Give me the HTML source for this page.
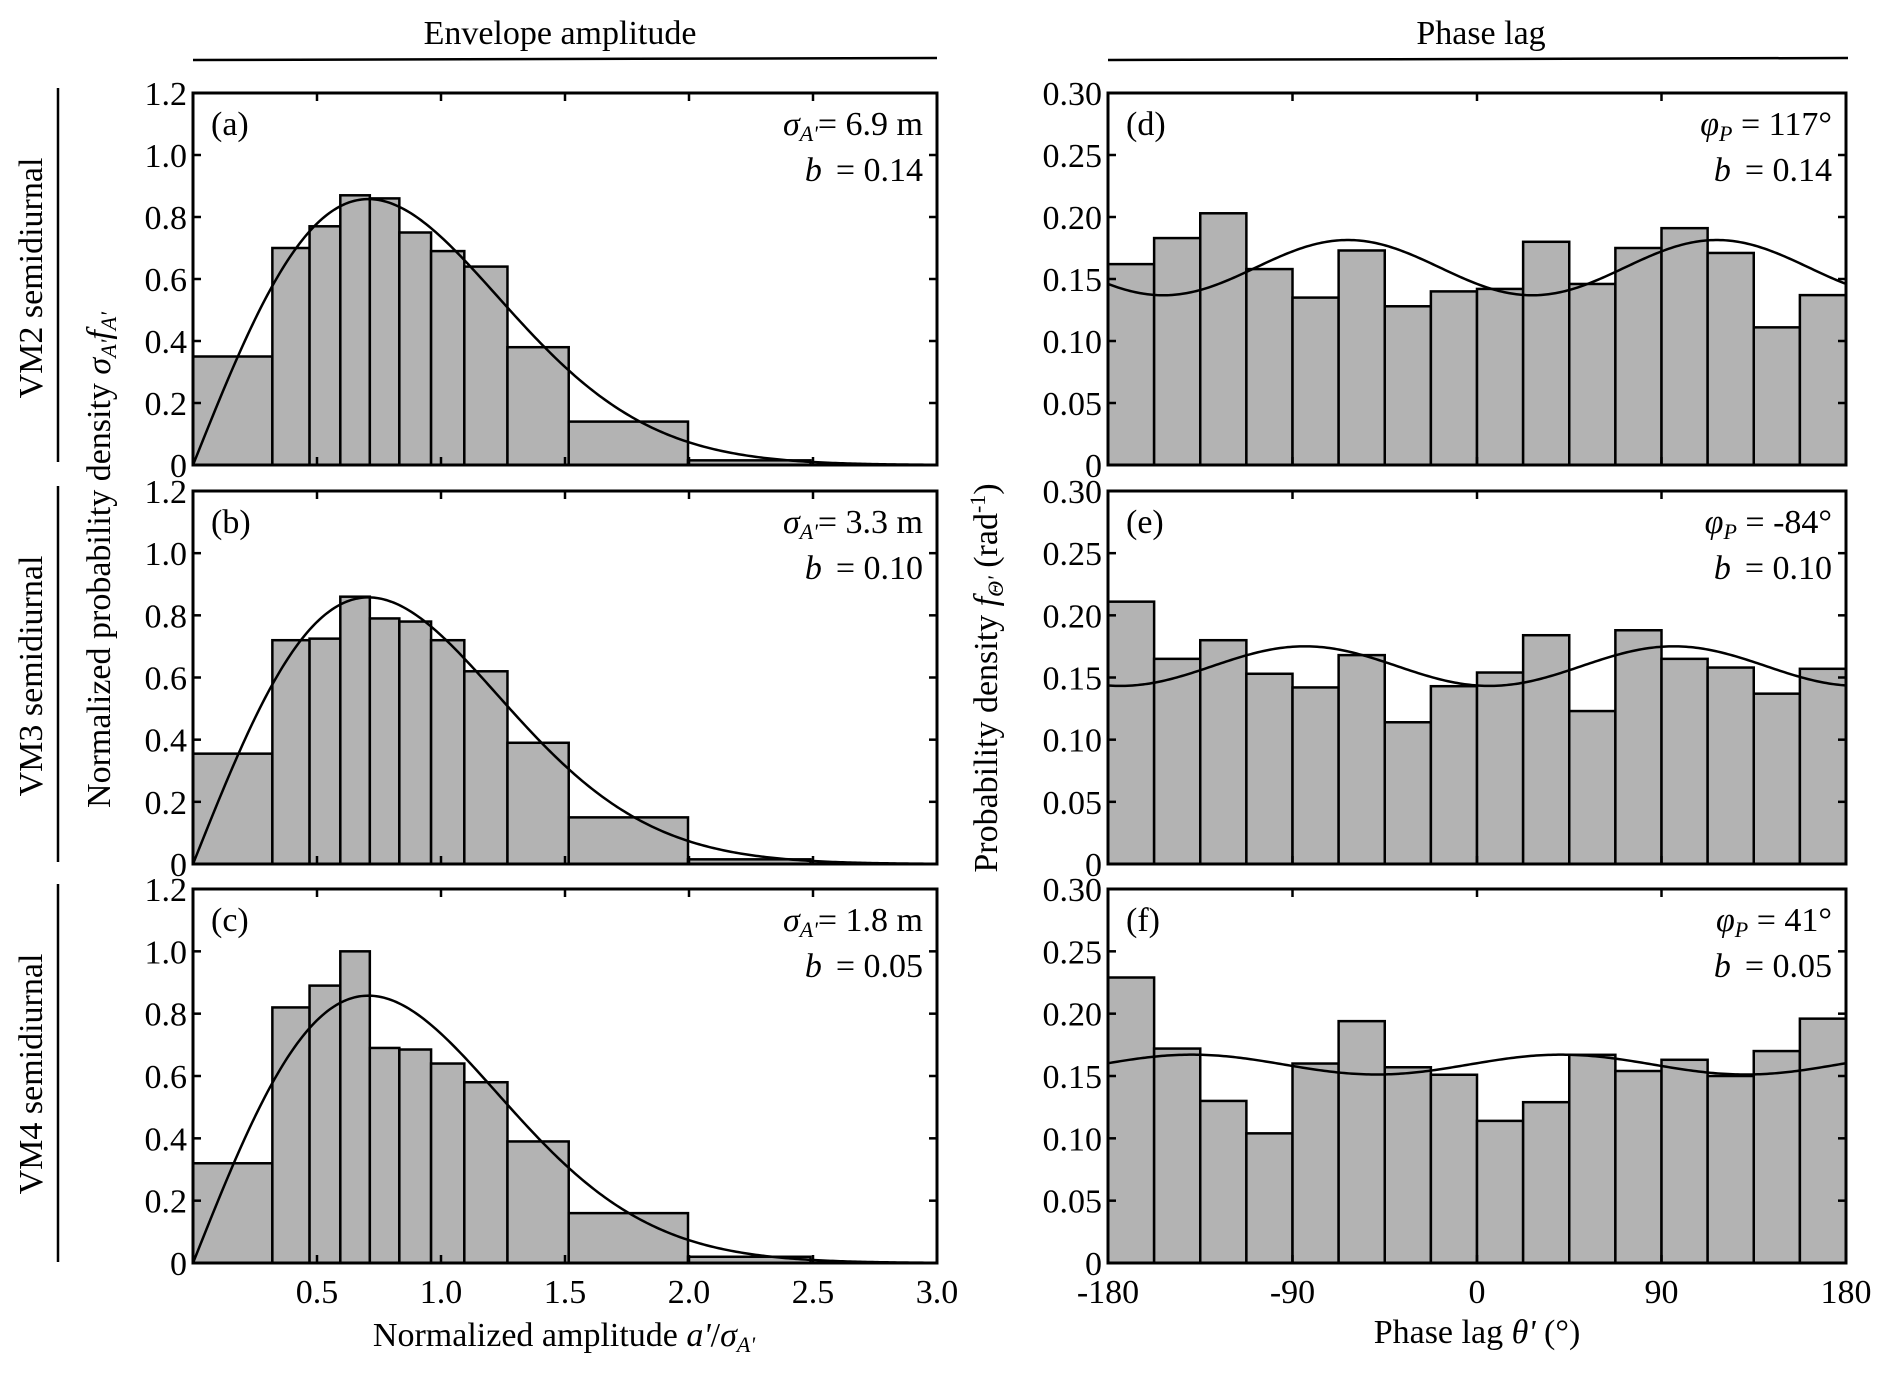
<!DOCTYPE html>
<html><head><meta charset="utf-8">
<style>
html,body{margin:0;padding:0;background:#fff;}
svg, svg text{font-family:"Liberation Serif","Times New Roman",serif;}
</style></head>
<body>
<svg id="fig" width="1892" height="1373" viewBox="0 0 1892 1373" xmlns="http://www.w3.org/2000/svg" font-family="Liberation Serif, serif">
  <text x="560" y="44" font-size="34" text-anchor="middle">Envelope amplitude</text>
  <line x1="193" y1="60" x2="937" y2="58" stroke="#000" stroke-width="2.5"/>
  <text x="1481" y="44" font-size="34" text-anchor="middle">Phase lag</text>
  <line x1="1108" y1="60" x2="1848" y2="58" stroke="#000" stroke-width="2.5"/>

  <line x1="58" y1="88" x2="58" y2="462" stroke="#000" stroke-width="2.5"/>
  <line x1="58" y1="486" x2="58" y2="862" stroke="#000" stroke-width="2.5"/>
  <line x1="58" y1="884" x2="58" y2="1262" stroke="#000" stroke-width="2.5"/>
  <text transform="translate(42,278) rotate(-90)" font-size="34" text-anchor="middle">VM2 semidiurnal</text>
  <text transform="translate(42,676) rotate(-90)" font-size="34" text-anchor="middle">VM3 semidiurnal</text>
  <text transform="translate(42,1074) rotate(-90)" font-size="34" text-anchor="middle">VM4 semidiurnal</text>

  <text transform="translate(110,560) rotate(-90)" font-size="34" text-anchor="middle">Normalized probability density <tspan font-style="italic">σ</tspan><tspan font-style="italic" font-size="22" dy="6">A'</tspan><tspan font-style="italic" dy="-6">f</tspan><tspan font-style="italic" font-size="22" dy="6">A'</tspan></text>
  <text transform="translate(997,678) rotate(-90)" font-size="34" text-anchor="middle">Probability density <tspan font-style="italic">f</tspan><tspan font-style="italic" font-size="22" dy="6">Θ'</tspan><tspan dy="-6"> (rad</tspan><tspan font-size="22" dy="-12">-1</tspan><tspan dy="12">)</tspan></text>
  <text x="564" y="1346" font-size="34" text-anchor="middle">Normalized amplitude <tspan font-style="italic">a'</tspan>/<tspan font-style="italic">σ</tspan><tspan font-style="italic" font-size="22" dy="6">A'</tspan></text>
  <text x="1477" y="1343" font-size="34" text-anchor="middle">Phase lag <tspan font-style="italic">θ'</tspan> (°)</text>
  <g id="plots"></g>
</svg>
<script>
// ---- Amplitude histograms (a,b,c) ----
const ampEdges = [0, 0.32, 0.47, 0.594, 0.713, 0.832, 0.96, 1.094, 1.268, 1.515, 1.996, 2.49];
const ampA = [0.35, 0.70, 0.77, 0.87, 0.86, 0.75, 0.69, 0.64, 0.38, 0.14, 0.015];
const ampB = [0.355, 0.72, 0.725, 0.86, 0.79, 0.78, 0.72, 0.62, 0.39, 0.15, 0.015];
const ampC = [0.32, 0.82, 0.89, 1.0, 0.69, 0.685, 0.64, 0.58, 0.39, 0.16, 0.02];
const ampXTicks = [0.5, 1.0, 1.5, 2.0, 2.5, 3.0];
const ampYTicks = [0, 0.2, 0.4, 0.6, 0.8, 1.0, 1.2];
const ampYLabels = ["0", "0.2", "0.4", "0.6", "0.8", "1.0", "1.2"];
const ampFitScale = 1.0; // Rayleigh fit, normalized
// ---- Phase histograms (d,e,f) ----
const phaseEdges = [-180, -157.5, -135, -112.5, -90, -67.5, -45, -22.5, 0, 22.5, 45, 67.5, 90, 112.5, 135, 157.5, 180];
const phaseD = [0.162, 0.183, 0.203, 0.158, 0.135, 0.173, 0.128, 0.140, 0.142, 0.180, 0.146, 0.175, 0.191, 0.171, 0.111, 0.137];
const phaseE = [0.211, 0.165, 0.180, 0.153, 0.142, 0.168, 0.114, 0.143, 0.154, 0.184, 0.123, 0.188, 0.165, 0.158, 0.137, 0.157];
const phaseF = [0.229, 0.172, 0.130, 0.104, 0.160, 0.194, 0.157, 0.151, 0.114, 0.129, 0.167, 0.154, 0.163, 0.150, 0.170, 0.196];
const phaseXTicks = [-180, -90, 0, 90, 180];
const phaseYTicks = [0, 0.05, 0.10, 0.15, 0.20, 0.25, 0.30];
const phaseYLabels = ["0", "0.05", "0.10", "0.15", "0.20", "0.25", "0.30"];
const phiP = [117, -84, 41];
const bVals = [0.14, 0.10, 0.05];
const sigmaVals = ["6.9", "3.3", "1.8"];

const NS = "http://www.w3.org/2000/svg";
const root = document.getElementById("plots");
function mk(tag, attrs, parent) {
  const e = document.createElementNS(NS, tag);
  for (const k in attrs) e.setAttribute(k, attrs[k]);
  (parent || root).appendChild(e);
  return e;
}
const rows = [[93, 465], [491, 864], [889, 1263]];
const letters = [["(a)", "(b)", "(c)"], ["(d)", "(e)", "(f)"]];

function panel(kind, r) {
  const [top, bot] = rows[r];
  const left = kind === 0 ? 193 : 1108, right = kind === 0 ? 937 : 1846;
  const xmin = kind === 0 ? 0 : -180, xmax = kind === 0 ? 3 : 180;
  const ymax = kind === 0 ? 1.2 : 0.30;
  const xs = v => left + (v - xmin) / (xmax - xmin) * (right - left);
  const ys = v => bot - v / ymax * (bot - top);
  const g = mk("g", {});
  
  
  const edges = kind === 0 ? ampEdges : phaseEdges;
  const vals = kind === 0 ? [ampA, ampB, ampC][r] : [phaseD, phaseE, phaseF][r];
  vals.forEach((v, i) => {
    const x0 = xs(edges[i]), x1 = xs(edges[i + 1]);
    const rect = mk("rect", {x: x0, y: ys(v), width: x1 - x0, height: ys(0) - ys(v), fill: "#b3b3b3", stroke: "#000", "stroke-width": 2.5}, g);
    
    
  });
  let d = "";
  const N = 300;
  for (let k = 0; k <= N; k++) {
    const x = xmin + (xmax - xmin) * k / N;
    let y;
    if (kind === 0) { const u = x / ampFitScale; y = 2 * u * Math.exp(-u * u) / ampFitScale; }
    else { y = (1 / (2 * Math.PI)) * (1 + bVals[r] * Math.cos(2 * (x - phiP[r]) * Math.PI / 180)); }
    d += (k ? "L" : "M") + xs(x).toFixed(2) + "," + ys(y).toFixed(2);
  }
  const path = mk("path", {d: d, fill: "none", stroke: "#000", "stroke-width": 2.5}, g);
  
  
  const fr = mk("rect", {x: left, y: top, width: right - left, height: bot - top, fill: "none", stroke: "#000", "stroke-width": 3}, g);
  
  
  const yt = kind === 0 ? ampYTicks : phaseYTicks, yl = kind === 0 ? ampYLabels : phaseYLabels;
  yt.forEach((v, i) => {
    const y = ys(v);
    mk("line", {x1: left, x2: left + 8, y1: y, y2: y, stroke: "#000", "stroke-width": 2.5}, g);
    mk("line", {x1: right - 8, x2: right, y1: y, y2: y, stroke: "#000", "stroke-width": 2.5}, g);
    const t = mk("text", {x: left - 6, y: y + 12, "font-size": 34, "text-anchor": "end"}, g);
    
    
    t.textContent = yl[i];
  });
  const xt = kind === 0 ? ampXTicks : phaseXTicks;
  xt.forEach(v => {
    const x = xs(v);
    mk("line", {x1: x, x2: x, y1: bot, y2: bot - 8, stroke: "#000", "stroke-width": 2.5}, g);
    mk("line", {x1: x, x2: x, y1: top, y2: top + 8, stroke: "#000", "stroke-width": 2.5}, g);
    if (r === 2) {
      const t = mk("text", {x: x, y: bot + 40, "font-size": 34, "text-anchor": "middle"}, g);
      
      
      t.textContent = kind === 0 ? v.toFixed(1) : String(v);
    }
  });
  const lt = mk("text", {x: left + 18, y: top + 42, "font-size": 34}, g);
  
  
  lt.textContent = letters[kind][r];
  const a1 = mk("text", {x: right - 14, y: top + 42, "font-size": 34, "text-anchor": "end"}, g);
  
  
  if (kind === 0) a1.innerHTML = '<tspan font-style="italic">σ</tspan><tspan font-style="italic" font-size="22" dy="6">A\'</tspan><tspan dy="-6">= ' + sigmaVals[r] + ' m</tspan>';
  else a1.innerHTML = '<tspan font-style="italic">φ</tspan><tspan font-style="italic" font-size="22" dy="6">P</tspan><tspan dy="-6"> = ' + phiP[r] + '°</tspan>';
  const a2 = mk("text", {x: right - 14, y: top + 88, "font-size": 34, "text-anchor": "end"}, g);
  
  
  a2.innerHTML = '<tspan font-style="italic">b</tspan><tspan dx="14">= ' + bVals[r].toFixed(2) + '</tspan>';
}
for (let r = 0; r < 3; r++) { panel(0, r); panel(1, r); }
</script>
</body></html>
